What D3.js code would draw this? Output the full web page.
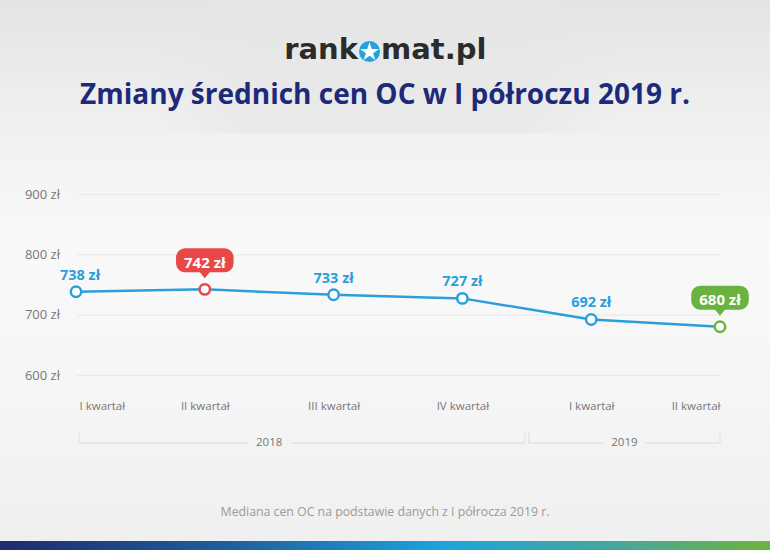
<!DOCTYPE html>
<html>
<head>
<meta charset="utf-8">
<script src="https://cdn.jsdelivr.net/npm/d3@7"></script>
<style>
  html, body { margin: 0; padding: 0; background: #f2f2f2; }
  svg { display: block; }
</style>
</head>
<body>
<div id="chart"></div>
<script>
// ---- data ----
const categories = ["I kwartał", "II kwartał", "III kwartał", "IV kwartał", "I kwartał", "II kwartał"];
const values = [738, 742, 733, 727, 692, 680];
const yTicks = [600, 700, 800, 900];
const yearLabels = ["2018", "2019"];
const yearFirstIndex = [0, 4];
const yearLastIndex = [3, 5];
const highlightMax = 1;   // index of max (red)
const highlightLast = 5;  // index of last (green)
const titleText = "Zmiany średnich cen OC w I półroczu 2019 r.";
const footnoteText = "Mediana cen OC na podstawie danych z I półrocza 2019 r.";

// ---- setup ----
const W = 770, H = 550;
const svg = d3.select("#chart").append("svg").attr("width", W).attr("height", H);
const defs = svg.append("defs");

const bg = defs.append("linearGradient").attr("id", "bg").attr("x1", 0).attr("y1", 0).attr("x2", 0).attr("y2", 1);
[[0, "#e3e4e5"], [0.24, "#f1f1f1"], [0.45, "#f9f9f9"], [0.7, "#f6f6f6"], [1, "#efefef"]]
  .forEach(([o, c]) => bg.append("stop").attr("offset", o).attr("stop-color", c));
svg.append("rect").attr("width", W).attr("height", H).attr("fill", "url(#bg)");

// subtle darker panel behind the title
const tp = defs.append("linearGradient").attr("id", "tp").attr("x1", 0).attr("y1", 0).attr("x2", 1).attr("y2", 0);
[[0, "#e6e6e6", 0], [0.2, "#e6e6e6", 0.6], [0.8, "#e6e6e6", 0.6], [1, "#e6e6e6", 0]]
  .forEach(([o, c, a]) => tp.append("stop").attr("offset", o).attr("stop-color", c).attr("stop-opacity", a));
svg.append("rect").attr("x", 150).attr("y", 0).attr("width", 470).attr("height", 133).attr("fill", "url(#tp)");

// bottom stripe
const bar = defs.append("linearGradient").attr("id", "bar").attr("x1", 0).attr("y1", 0).attr("x2", 1).attr("y2", 0);
[[0, "#1f2b6c"], [0.3, "#1e5fa0"], [0.58, "#1fa4db"], [0.8, "#47a79a"], [1, "#6db43e"]]
  .forEach(([o, c]) => bar.append("stop").attr("offset", o).attr("stop-color", c));
svg.append("rect").attr("x", 0).attr("y", 541).attr("width", W).attr("height", 9).attr("fill", "url(#bar)");

// ---- logo ----
const logo = svg.append("g");
logo.append("text").attr("x", 358).attr("y", 59).attr("text-anchor", "end")
  .attr("font-family", "'DejaVu Sans', sans-serif").attr("font-weight", 700).attr("font-size", 29)
  .attr("fill", "#2b2b2b").text("rank");
logo.append("circle").attr("cx", 369.5).attr("cy", 51.5).attr("r", 10.5).attr("fill", "#23a3dd");
const star = d3.symbol().type(d3.symbolStar).size(110);
logo.append("path").attr("d", star()).attr("transform", "translate(369.5,52)").attr("fill", "#fff");
logo.append("text").attr("x", 381).attr("y", 59).attr("text-anchor", "start")
  .attr("font-family", "'DejaVu Sans', sans-serif").attr("font-weight", 700).attr("font-size", 29)
  .attr("fill", "#2b2b2b").text("mat.pl");

// ---- title ----
svg.append("text").attr("x", W / 2).attr("y", 104).attr("text-anchor", "middle")
  .attr("font-family", "'Open Sans', sans-serif").attr("font-weight", 700).attr("font-size", 28)
  .attr("fill", "#1d2a7a").text(titleText);

// ---- scales ----
const x = d3.scalePoint().domain(d3.range(categories.length)).range([76, 720]);
const y = d3.scaleLinear().domain([600, 900]).range([375, 194]);

const blue = "#2a9fdc", red = "#e94848", green = "#6ab340";
const colorOf = i => i === highlightMax ? red : (i === highlightLast ? green : blue);

// gridlines + y labels
const yAxis = d3.axisLeft(y).tickValues(yTicks).tickSize(-(720 - 77)).tickFormat(d => d + " zł");
const gy = svg.append("g").attr("transform", "translate(77,0)").call(yAxis);
gy.select(".domain").remove();
gy.selectAll(".tick line").attr("stroke", "#e8e8e8").attr("stroke-width", 1);
gy.selectAll(".tick text").attr("x", -17).attr("fill", "#777").attr("font-size", 13)
  .attr("font-family", "'Open Sans', sans-serif");

// x labels
const xAxis = d3.axisBottom(x).tickSize(0).tickFormat(i => categories[i]);
const gx = svg.append("g").attr("transform", "translate(0,399)").call(xAxis);
gx.select(".domain").remove();
gx.selectAll(".tick text").attr("fill", "#777").attr("font-size", 11.5)
  .attr("font-family", "'Open Sans', sans-serif")
  .attr("text-anchor", (i) => i === 0 ? "start" : (i === categories.length - 1 ? "end" : "middle"))
  .attr("dx", (i) => i === 0 ? 3 : 0);

// year brackets
const yb = 443, yt = 433;
yearLabels.forEach((lab, k) => {
  const a = yearFirstIndex[k], b = yearLastIndex[k];
  const left = k === 0 ? x(a) + 3 : (x(a - 1) + x(a)) / 2 + 2;
  const right = b === categories.length - 1 ? x(b) : (x(b) + x(b + 1)) / 2 - 2;
  const cx = k === 0 ? (x(a) + x(b)) / 2 : (left + right) / 2;
  const g = svg.append("g");
  const t = g.append("text").attr("x", cx).attr("y", yb + 3).attr("text-anchor", "middle")
    .attr("fill", "#777").attr("font-size", 11.5).attr("font-family", "'Open Sans', sans-serif").text(lab);
  const tw = t.node().getComputedTextLength() / 2 + 8;
  const p = d3.path();
  p.moveTo(left, yt); p.lineTo(left, yb); p.lineTo(cx - tw, yb);
  p.moveTo(cx + tw, yb); p.lineTo(right, yb); p.lineTo(right, yt);
  g.insert("path", "text").attr("d", p.toString()).attr("fill", "none").attr("stroke", "#dcdcdc").attr("stroke-width", 1);
});

// line
const line = d3.line().x((d, i) => x(i)).y(d => y(d));
svg.append("path").datum(values).attr("d", line).attr("fill", "none")
  .attr("stroke", blue).attr("stroke-width", 2.5).attr("stroke-linejoin", "round");

// markers
svg.selectAll("circle.pt").data(values).join("circle").attr("class", "pt")
  .attr("cx", (d, i) => x(i)).attr("cy", d => y(d)).attr("r", 5.2)
  .attr("fill", "#fff").attr("stroke", (d, i) => colorOf(i)).attr("stroke-width", 2.5);

// value labels
values.forEach((v, i) => {
  const px = x(i), py = y(v);
  const txt = v + " zł";
  if (i === highlightMax || i === highlightLast) {
    const g = svg.append("g");
    const t = g.append("text").attr("x", px).attr("y", py - 21.5).attr("text-anchor", "middle")
      .attr("font-family", "'Open Sans', sans-serif").attr("font-weight", 700).attr("font-size", 15)
      .attr("fill", "#fff").text(txt);
    const w = t.node().getComputedTextLength() + 16, h = 24;
    const top = py - 41, bot = top + h;
    const p = d3.path();
    const r = 9, l = px - w / 2, rr = px + w / 2;
    p.moveTo(l + r, top); p.lineTo(rr - r, top); p.arcTo(rr, top, rr, top + r, r);
    p.lineTo(rr, bot - r); p.arcTo(rr, bot, rr - r, bot, r);
    p.lineTo(px + 5, bot); p.lineTo(px, bot + 6); p.lineTo(px - 5, bot);
    p.lineTo(l + r, bot); p.arcTo(l, bot, l, bot - r, r);
    p.lineTo(l, top + r); p.arcTo(l, top, l + r, top, r); p.closePath();
    g.insert("path", "text").attr("d", p.toString()).attr("fill", colorOf(i));
  } else {
    svg.append("text").attr("x", px + (i === 0 ? 4 : 0)).attr("y", py - 12).attr("text-anchor", "middle")
      .attr("font-family", "'Open Sans', sans-serif").attr("font-weight", 700).attr("font-size", 14.5)
      .attr("fill", blue).text(txt);
  }
});

// footnote
svg.append("text").attr("x", W / 2).attr("y", 516).attr("text-anchor", "middle")
  .attr("font-family", "'Open Sans', sans-serif").attr("font-size", 12.3)
  .attr("fill", "#9a9a9a").text(footnoteText);
</script>
</body>
</html>
